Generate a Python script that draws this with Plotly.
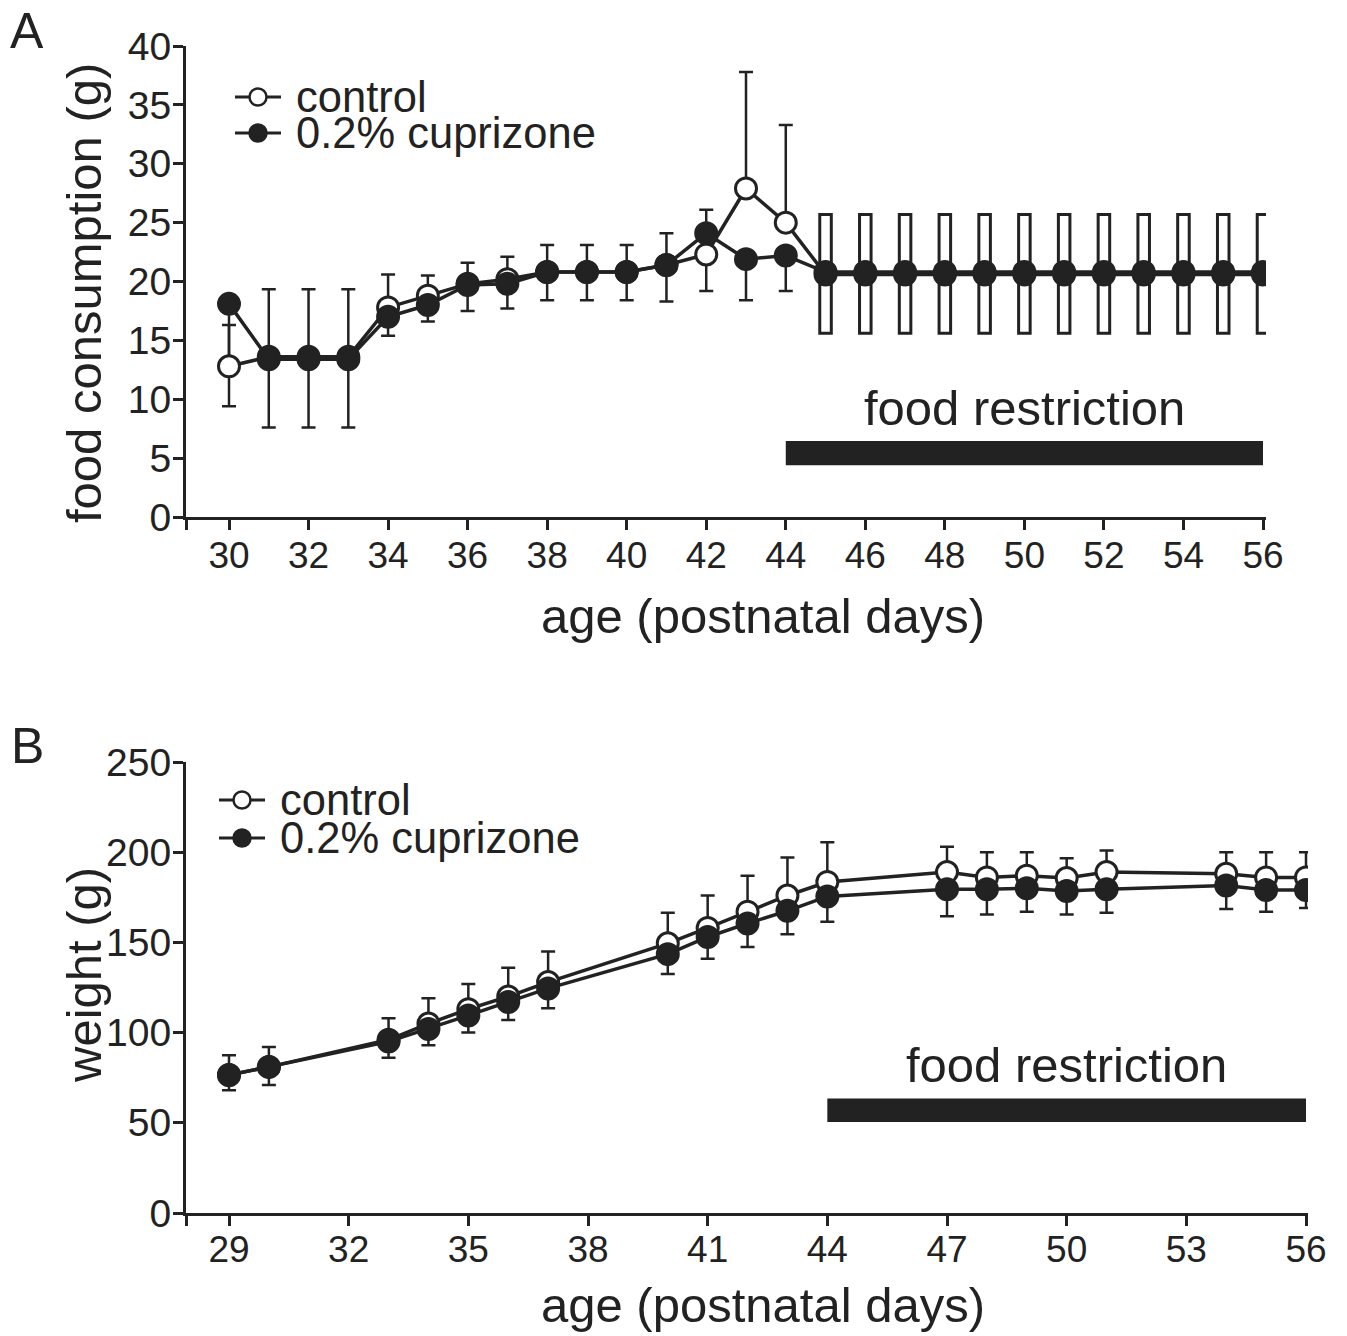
import numpy as np
import plotly.graph_objects as go

# ---------------- data ----------------
# Panel A: food consumption (g)
days_a = [30, 31, 32, 33, 34, 35, 36, 37, 38, 39, 40, 41, 42, 43, 44,
          45, 46, 47, 48, 49, 50, 51, 52, 53, 54, 55, 56]
food_control = [12.8, 13.6, 13.6, 13.6, 17.8, 18.8, 19.8, 20.2, 20.8, 20.8, 20.8, 21.4, 22.3, 27.9, 25.0,
                20.6, 20.6, 20.6, 20.6, 20.6, 20.6, 20.6, 20.6, 20.6, 20.6, 20.6, 20.6]
food_control_err = [3.5, 5.75, 5.75, 5.75, 2.8, 1.7, 1.8, 1.9, 2.3, 2.3, 2.3, 2.7, 3.8, 9.9, 8.3,
                    5.1, 5.1, 5.1, 5.1, 5.1, 5.1, 5.1, 5.1, 5.1, 5.1, 5.1, 5.1]
food_cupr = [18.1, 13.4, 13.4, 13.4, 17.0, 18.0, 19.7, 19.8, 20.8, 20.8, 20.8, 21.4, 24.1, 21.9, 22.2,
             20.8, 20.8, 20.8, 20.8, 20.8, 20.8, 20.8, 20.8, 20.8, 20.8, 20.8, 20.8]
food_cupr_err = [8.7, 5.8, 5.8, 5.8, 1.6, 1.4, 2.2, 2.1, 2.4, 2.4, 2.4, 3.1, 4.9, 3.5, 3.0,
                 5.2, 5.2, 5.2, 5.2, 5.2, 5.2, 5.2, 5.2, 5.2, 5.2, 5.2, 5.2]

# Panel B: body weight (g)
days_b = [29, 30, 33, 34, 35, 36, 37, 40, 41, 42, 43, 44, 47, 48, 49, 50, 51, 54, 55, 56]
weight_control = [76.5, 81, 96, 105, 113, 120, 128, 149.5, 158, 167, 176, 183.5,
                  189, 186, 187, 185.7, 189, 188, 186, 186]
weight_control_err = [11, 11, 12, 14, 14, 16, 17, 17, 18, 20, 21, 22,
                      14, 14, 13, 11, 12, 12, 14, 14]
weight_cupr = [76.5, 81, 95, 102, 109.5, 117, 124.5, 143.5, 153, 160.5, 167.5, 175.5,
               179.5, 179.5, 180, 178.5, 179.5, 181.5, 179, 179]
weight_cupr_err = [8.5, 10, 9, 9, 9.5, 10, 11, 11, 12, 13, 13, 14,
                   15, 14, 13, 13, 13, 13, 12, 10]

series_names = ["control", "0.2% cuprizone"]
restriction_a = (44, 56)          # food restriction period (days)
restriction_b = (44, 56)
restriction_bar_a = (4.4, 6.45)   # vertical extent of the bar (g)
restriction_bar_b = (50.5, 63.5)
restriction_label = "food restriction"

ticks_a_x = list(range(30, 57, 2))
ticks_a_y = list(range(0, 41, 5))
ticks_b_x = list(range(29, 57, 3))
ticks_b_y = list(range(0, 251, 50))

# ---------------- style ----------------
W, H = 1347, 1336
INK = "#222222"
FONT = "Liberation Sans, Arial, Helvetica, sans-serif"
MS = 21
LW = 3.5
MLW = 3


def px_x(p):
    return p / W


def px_y(p):
    return 1 - p / H


fig = go.Figure()

da = np.array(days_a)
rect_mask = da > restriction_a[0]
zeros_a = np.zeros(len(days_a))
ctrl_up = np.where(rect_mask, 0, food_control_err)
cupr_dn = np.where(rect_mask, 0, food_cupr_err)

err_style = dict(type="data", symmetric=False, color=INK, thickness=2.5, width=7)
hidden_marker = dict(size=2, opacity=0)

# ---- Panel A ----
fig.add_trace(go.Scatter(x=days_a, y=food_control, mode="markers", marker=hidden_marker,
                         showlegend=False, hoverinfo="skip",
                         error_y=dict(array=ctrl_up, arrayminus=zeros_a, **err_style),
                         xaxis="x", yaxis="y"))
fig.add_trace(go.Scatter(x=days_a, y=food_cupr, mode="markers", marker=hidden_marker,
                         showlegend=False, hoverinfo="skip",
                         error_y=dict(array=zeros_a, arrayminus=cupr_dn, **err_style),
                         xaxis="x", yaxis="y"))

rd = da[rect_mask]
fc = np.array(food_control)[rect_mask]
fce = np.array(food_control_err)[rect_mask]
fu = np.array(food_cupr)[rect_mask]
fue = np.array(food_cupr_err)[rect_mask]
bar_style = dict(marker=dict(color="white", line=dict(color=INK, width=3)),
                 width=0.29, showlegend=False, hoverinfo="skip", xaxis="x", yaxis="y")
fig.add_trace(go.Bar(x=rd, y=fce, base=fc, **bar_style))
fig.add_trace(go.Bar(x=rd, y=fue, base=fu - fue, **bar_style))

fig.add_trace(go.Scatter(x=days_a, y=food_control, mode="lines+markers", name=series_names[0],
                         line=dict(color=INK, width=LW), showlegend=False,
                         marker=dict(size=MS, color="white", line=dict(color=INK, width=MLW)),
                         xaxis="x", yaxis="y"))
fig.add_trace(go.Scatter(x=days_a, y=food_cupr, mode="lines+markers", name=series_names[1],
                         line=dict(color=INK, width=LW), showlegend=False,
                         marker=dict(size=MS, color=INK, line=dict(color=INK, width=MLW)),
                         xaxis="x", yaxis="y"))

# ---- Panel B ----
zeros_b = np.zeros(len(days_b))
fig.add_trace(go.Scatter(x=days_b, y=weight_control, mode="markers", marker=hidden_marker,
                         showlegend=False, hoverinfo="skip",
                         error_y=dict(array=weight_control_err, arrayminus=zeros_b, **err_style),
                         xaxis="x2", yaxis="y2"))
fig.add_trace(go.Scatter(x=days_b, y=weight_cupr, mode="markers", marker=hidden_marker,
                         showlegend=False, hoverinfo="skip",
                         error_y=dict(array=zeros_b, arrayminus=weight_cupr_err, **err_style),
                         xaxis="x2", yaxis="y2"))
fig.add_trace(go.Scatter(x=days_b, y=weight_control, mode="lines+markers", name=series_names[0],
                         line=dict(color=INK, width=LW), showlegend=False,
                         marker=dict(size=MS, color="white", line=dict(color=INK, width=MLW)),
                         xaxis="x2", yaxis="y2"))
fig.add_trace(go.Scatter(x=days_b, y=weight_cupr, mode="lines+markers", name=series_names[1],
                         line=dict(color=INK, width=LW), showlegend=False,
                         marker=dict(size=MS, color=INK, line=dict(color=INK, width=MLW)),
                         xaxis="x2", yaxis="y2"))

axis_common = dict(showline=True, linecolor=INK, linewidth=3, ticks="outside", ticklen=10,
                   tickwidth=3, tickcolor=INK, showgrid=False, zeroline=False, automargin=False,
                   fixedrange=True)
ytickfont = dict(family=FONT, size=39, color=INK)
xtickfont = dict(family=FONT, size=37, color=INK)

x_a_left = 30 - (229 - 186) / 39.77
x_a_right = 56 + 3 / 39.77
x_b_left = 29 - (229 - 186) / 39.89
x_b_right = 56 + 2 / 39.89

# an extra unlabeled tick at the left end of each x axis (as in the original)
xa_vals = [x_a_left] + ticks_a_x
xa_text = [""] + [str(v) for v in ticks_a_x]
xb_vals = [x_b_left] + ticks_b_x
xb_text = [""] + [str(v) for v in ticks_b_x]

fig.update_layout(
    width=W, height=H, autosize=False,
    margin=dict(l=0, r=0, t=0, b=0, pad=0),
    paper_bgcolor="white", plot_bgcolor="white",
    barmode="overlay", showlegend=False,
    xaxis=dict(domain=[px_x(186), px_x(1266)], range=[x_a_left, x_a_right], anchor="y",
               tickmode="array", tickvals=xa_vals, ticktext=xa_text, tickfont=xtickfont,
               ticklabelstandoff=-6, **axis_common),
    yaxis=dict(domain=[px_y(517), px_y(46)], range=[0, 40], anchor="x",
               tickmode="array", tickvals=ticks_a_y, tickfont=ytickfont,
               ticklabelstandoff=-6, **axis_common),
    xaxis2=dict(domain=[px_x(186), px_x(1308)], range=[x_b_left, x_b_right], anchor="y2",
                tickmode="array", tickvals=xb_vals, ticktext=xb_text, tickfont=xtickfont,
                ticklabelstandoff=-8, **axis_common),
    yaxis2=dict(domain=[px_y(1213), px_y(762)], range=[0, 250], anchor="x2",
                tickmode="array", tickvals=ticks_b_y, tickfont=ytickfont,
                ticklabelstandoff=-6, **axis_common),
)

# restriction bars
for (x0, x1), (y0, y1), xr, yr in [(restriction_a, restriction_bar_a, "x", "y"),
                                   (restriction_b, restriction_bar_b, "x2", "y2")]:
    fig.add_shape(type="rect", xref=xr, yref=yr, x0=x0, x1=x1, y0=y0, y1=y1,
                  fillcolor=INK, line=dict(width=0), layer="above")

title_font = dict(family=FONT, size=49, color=INK)
legend_font = dict(family=FONT, size=43.5, color=INK)
annotations = [
    dict(text=restriction_label, xref="x", yref="y", x=np.mean(restriction_a), y=9.25,
         showarrow=False, font=title_font, xanchor="center", yanchor="middle"),
    dict(text=restriction_label, xref="x2", yref="y2", x=np.mean(restriction_b), y=82,
         showarrow=False, font=title_font, xanchor="center", yanchor="middle"),
    dict(text="food consumption (g)", xref="paper", yref="paper", x=px_x(84), y=px_y(293),
         textangle=-90, showarrow=False, font=title_font, xanchor="center", yanchor="middle"),
    dict(text="weight (g)", xref="paper", yref="paper", x=px_x(84), y=px_y(975),
         textangle=-90, showarrow=False, font=title_font, xanchor="center", yanchor="middle"),
    dict(text="age (postnatal days)", xref="paper", yref="paper", x=px_x(763), y=px_y(616),
         showarrow=False, font=title_font, xanchor="center", yanchor="middle"),
    dict(text="age (postnatal days)", xref="paper", yref="paper", x=px_x(763), y=px_y(1305),
         showarrow=False, font=title_font, xanchor="center", yanchor="middle"),
    dict(text="A", xref="paper", yref="paper", x=px_x(27), y=px_y(31),
         showarrow=False, font=dict(family=FONT, size=50, color=INK), xanchor="center", yanchor="middle"),
    dict(text="B", xref="paper", yref="paper", x=px_x(27), y=px_y(746),
         showarrow=False, font=dict(family=FONT, size=50, color=INK), xanchor="center", yanchor="middle"),
]

# manual legends (key line + circle + label) for both panels
legend_rows = [  # (line x0, line x1, text x, row y) in pixels
    (235, 281, 294, [97, 133]),
    (219, 265, 278, [800, 838]),
]
fills = ["white", INK]
for lx0, lx1, tx, rows in legend_rows:
    for name, fill, ry in zip(series_names, fills, rows):
        cx = (lx0 + lx1) / 2
        fig.add_shape(type="line", xref="paper", yref="paper",
                      x0=px_x(lx0), x1=px_x(lx1), y0=px_y(ry), y1=px_y(ry),
                      line=dict(color=INK, width=3))
        r = 8.5
        fig.add_shape(type="circle", xref="paper", yref="paper",
                      x0=px_x(cx - r), x1=px_x(cx + r), y0=px_y(ry + r), y1=px_y(ry - r),
                      fillcolor=fill, line=dict(color=INK, width=2.5))
        annotations.append(dict(text=name, xref="paper", yref="paper", x=px_x(tx), y=px_y(ry),
                                showarrow=False, font=legend_font, xanchor="left", yanchor="middle"))

fig.update_layout(annotations=annotations)

post = "document.body.style.margin='0';document.body.style.overflow='hidden';"
fig.write_html("out.html", config={"displayModeBar": False}, post_script=post)
